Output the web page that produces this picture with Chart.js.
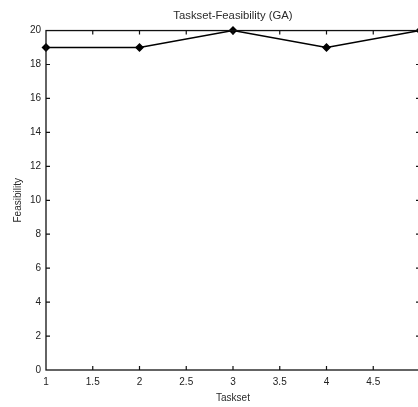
<!DOCTYPE html>
<html>
<head>
<meta charset="utf-8">
<script src="https://cdn.jsdelivr.net/npm/chart.js@4.4.0/dist/chart.umd.min.js"></script>
<style>
html,body{margin:0;padding:0;background:#fff;overflow:hidden;width:418px;height:407px;}
canvas{display:block;}
</style>
</head>
<body>
<canvas id="c" width="426" height="407"></canvas>
<script>
const tasksets = [1, 2, 3, 4, 5];
const feasibility = [19, 19, 20, 19, 20];
const xTickValues = [1, 1.5, 2, 2.5, 3, 3.5, 4, 4.5, 5];
const yTickValues = [0, 2, 4, 6, 8, 10, 12, 14, 16, 18, 20];
const hiddenXLabels = [5];
const chartTitle = 'Taskset-Feasibility (GA)';
const xTitle = 'Taskset';
const yTitle = 'Feasibility';

const FONT = '"Liberation Sans", Arial, sans-serif';

const frameTicks = {
  id: 'frameTicks',
  afterDatasetsDraw(chart) {
    const {ctx, chartArea: a, scales} = chart;
    ctx.save();
    ctx.strokeStyle = '#111';
    ctx.lineWidth = 1.3;
    ctx.strokeRect(a.left, a.top, a.right - a.left, a.bottom - a.top);
    ctx.lineWidth = 1.2;
    const L = 4;
    ctx.beginPath();
    scales.x.ticks.forEach(t => {
      const px = scales.x.getPixelForValue(t.value);
      if (Math.abs(px - a.left) < 1 || Math.abs(px - a.right) < 1) return;
      ctx.moveTo(px, a.bottom); ctx.lineTo(px, a.bottom - L);
      ctx.moveTo(px, a.top); ctx.lineTo(px, a.top + L);
    });
    scales.y.ticks.forEach(t => {
      const py = scales.y.getPixelForValue(t.value);
      if (Math.abs(py - a.top) < 1 || Math.abs(py - a.bottom) < 1) return;
      ctx.moveTo(a.left, py); ctx.lineTo(a.left + L, py);
      ctx.moveTo(a.right, py); ctx.lineTo(a.right - L, py);
    });
    ctx.stroke();
    ctx.restore();
  }
};

new Chart(document.getElementById('c'), {
  type: 'scatter',
  data: {
    datasets: [{
      data: tasksets.map((x, i) => ({x, y: feasibility[i]})),
      showLine: true,
      borderColor: '#000',
      backgroundColor: '#000',
      borderWidth: 1.4,
      pointStyle: 'rectRot',
      pointRadius: 3.5,
      pointHoverRadius: 3.5,
      clip: false
    }]
  },
  options: {
    responsive: false,
    animation: false,
    devicePixelRatio: 1,
    layout: {padding: {left: 0, right: 4, top: 0, bottom: 0}},
    plugins: {
      legend: {display: false},
      tooltip: {enabled: false},
      title: {
        display: true,
        text: chartTitle,
        fullSize: false,
        color: '#2a2a2a',
        font: {family: FONT, size: 11.3, weight: 'normal'},
        padding: {top: 9, bottom: 8}
      }
    },
    scales: {
      x: {
        type: 'linear',
        min: 1, max: 5,
        afterBuildTicks: s => { s.ticks = xTickValues.map(v => ({value: v})); },
        afterFit: s => { s.height = 37; },
        grid: {display: false, drawTicks: false},
        border: {display: false},
        ticks: {
          autoSkip: false,
          maxRotation: 0,
          padding: 6,
          color: '#222',
          font: {family: FONT, size: 10},
          callback: v => hiddenXLabels.includes(v) ? '' : String(v)
        },
        title: {
          display: true,
          text: xTitle,
          color: '#2a2a2a',
          font: {family: FONT, size: 10},
          padding: {top: 0, bottom: 3}
        }
      },
      y: {
        type: 'linear',
        min: 0, max: 20,
        afterBuildTicks: s => { s.ticks = yTickValues.map(v => ({value: v})); },
        afterFit: s => { s.width = 46; },
        grid: {display: false, drawTicks: false},
        border: {display: false},
        ticks: {
          padding: 5,
          color: '#222',
          font: {family: FONT, size: 10}
        },
        title: {
          display: true,
          text: yTitle,
          color: '#2a2a2a',
          font: {family: FONT, size: 10},
          padding: {top: 12, bottom: 0}
        }
      }
    }
  },
  plugins: [frameTicks]
});
</script>
</body>
</html>
